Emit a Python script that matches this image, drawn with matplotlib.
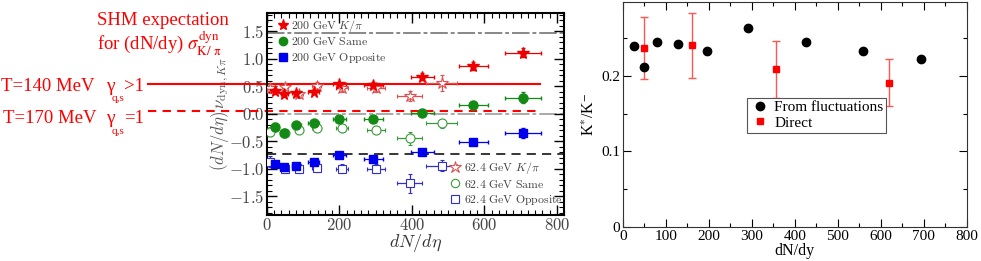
# -*- coding: utf-8 -*-
import numpy as np
import matplotlib
matplotlib.use('Agg')
import matplotlib.pyplot as plt
from matplotlib.lines import Line2D
from matplotlib.ticker import MultipleLocator, FuncFormatter

plt.rcParams['font.family'] = 'Liberation Serif'
plt.rcParams['mathtext.fontset'] = 'cm'

# ---- left panel data (STAR nu_dyn,Kpi scaled by dN/deta)
x200 = [21, 48, 81, 129, 200, 294, 429, 569, 706]
x200_err = [10, 10, 12, 15, 18, 25, 32, 40, 50]
kpi200 = [0.41, 0.35, 0.37, 0.40, 0.53, 0.52, 0.67, 0.86, 1.11]
kpi200_err = [0.05, 0.05, 0.05, 0.05, 0.05, 0.05, 0.06, 0.07, 0.08]
same200 = [-0.24, -0.36, -0.21, -0.18, -0.09, -0.09, 0.01, 0.15, 0.29]
same200_err = [0.07, 0.06, 0.05, 0.05, 0.05, 0.05, 0.05, 0.06, 0.10]
opp200 = [-0.92, -0.98, -0.95, -0.88, -0.75, -0.83, -0.70, -0.52, -0.35]
opp200_err = [0.06, 0.06, 0.05, 0.05, 0.05, 0.05, 0.05, 0.06, 0.09]

x62 = [9, 50, 89, 137, 208, 300, 394, 482]
x62_err = [8, 8, 10, 12, 17, 25, 35, 42]
kpi62 = [0.46, 0.48, 0.35, 0.50, 0.46, 0.47, 0.32, 0.56]
kpi62_err = [0.08, 0.08, 0.06, 0.07, 0.07, 0.08, 0.10, 0.14]
same62 = [-0.33, -0.36, -0.29, -0.27, -0.26, -0.30, -0.45, -0.18]
same62_err = [0.08, 0.07, 0.06, 0.06, 0.07, 0.07, 0.12, 0.08]
opp62 = [-0.88, -1.00, -1.00, -0.99, -1.00, -1.00, -1.27, -0.95]
opp62_err = [0.10, 0.08, 0.08, 0.07, 0.08, 0.08, 0.18, 0.10]

# reference lines
ref_gray_top = 1.47
ref_gray_zero = 0.0
ref_black = -0.74
shm_140 = 0.53
shm_170 = 0.045
shm_xrange = [-328, 755]

# ---- right panel data
fluct_x = [27, 50, 80, 129, 197, 291, 426, 558, 693]
fluct_y = [0.240, 0.212, 0.245, 0.243, 0.233, 0.263, 0.245, 0.233, 0.2225]
direct_x = [50, 162, 356, 620]
direct_y = [0.2375, 0.2405, 0.209, 0.191]
direct_err = [0.041, 0.0425, 0.038, 0.031]

fig = plt.figure(figsize=(9.81, 2.61), dpi=100)

# ================= left panel
ax = fig.add_axes([267/981, 1-215/261, 297/981, 202/261])
red, green, blue = '#ee0000', '#138a13', '#0000ee'
red_o, green_o, blue_o = '#e05050', '#3a9a3a', '#3030c8'

ax.axhline(ref_gray_top, color='#888888', lw=1.4, ls=(0, (9, 1.5, 2, 1.5)), zorder=1)
ax.axhline(ref_gray_zero, color='#aaaaaa', lw=1.4, ls=(0, (9, 1.5, 2, 1.5)), zorder=1)
ax.axhline(ref_black, color='black', lw=1.1, ls=(0, (6, 4)), zorder=1)
ax.plot(shm_xrange, [shm_140, shm_140], color='red', lw=1.5, clip_on=False, zorder=2)
ax.plot(shm_xrange, [shm_170, shm_170], color='red', lw=1.5, ls=(0, (4, 3)),
        clip_on=False, zorder=2)

ekw = dict(ls='none', elinewidth=0.9, capsize=1.5, zorder=3)
ax.errorbar(x62, kpi62, yerr=kpi62_err, xerr=x62_err, fmt='*', ms=9, mfc='white',
            mec=red_o, ecolor=red_o, mew=0.8, **ekw)
ax.errorbar(x62, same62, yerr=same62_err, xerr=x62_err, fmt='o', ms=6.5, mfc='white',
            mec=green_o, ecolor=green_o, mew=0.8, **ekw)
ax.errorbar(x62, opp62, yerr=opp62_err, xerr=x62_err, fmt='s', ms=6, mfc='white',
            mec=blue_o, ecolor=blue_o, mew=0.8, **ekw)
ax.errorbar(x200, kpi200, yerr=kpi200_err, xerr=x200_err, fmt='*', ms=8.5, color=red, **ekw)
ax.errorbar(x200, same200, yerr=same200_err, xerr=x200_err, fmt='o', ms=6.5, color=green, **ekw)
ax.errorbar(x200, opp200, yerr=opp200_err, xerr=x200_err, fmt='s', ms=6, color=blue, **ekw)

ax.set_xlim(0, 820)
ax.set_ylim(-1.845, 1.83)
ax.xaxis.set_major_locator(MultipleLocator(200))
ax.xaxis.set_minor_locator(MultipleLocator(20))
ax.yaxis.set_major_locator(MultipleLocator(0.5))
ax.yaxis.set_minor_locator(MultipleLocator(0.1))
ax.xaxis.set_major_formatter(FuncFormatter(lambda v, p: r'$%d$' % v))
ax.yaxis.set_major_formatter(FuncFormatter(lambda v, p: r'$%.1f$' % v))
ax.tick_params(which='both', direction='in', top=True, right=True, labelsize=12,
               labelcolor='#444444', pad=2)
ax.tick_params(which='major', length=7, width=1)
ax.tick_params(which='minor', length=3.5, width=0.8)
for s in ax.spines.values():
    s.set_linewidth(1.5)
ax.set_xlabel(r'$dN/d\eta$', fontsize=13, color='#333333', labelpad=-1)
ax.set_ylabel(r'$(dN/d\eta)\,\nu_{{\rm dyn},K\pi}$', fontsize=12, color='#555555', labelpad=-2)

h200 = [Line2D([], [], ls='none', marker='*', ms=8, color=red),
        Line2D([], [], ls='none', marker='o', ms=6, color=green),
        Line2D([], [], ls='none', marker='s', ms=5.5, color=blue)]
lab200 = [r'$\mathrm{200\ GeV}\ K/\pi$', r'$\mathrm{200\ GeV\ Same}$',
          r'$\mathrm{200\ GeV\ Opposite}$']
leg1 = ax.legend(h200, lab200, loc='upper left', bbox_to_anchor=(0.03, 0.975), frameon=False,
                 fontsize=8.5, handletextpad=0.1, labelspacing=0.2, handlelength=1.2,
                 borderaxespad=0, borderpad=0)
for t in leg1.get_texts():
    t.set_color('#444444')
ax.add_artist(leg1)
h62 = [Line2D([], [], ls='none', marker='*', ms=9, mfc='white', mec=red_o, mew=0.8),
       Line2D([], [], ls='none', marker='o', ms=6, mfc='white', mec=green_o, mew=0.8),
       Line2D([], [], ls='none', marker='s', ms=6, mfc='white', mec=blue_o, mew=0.8)]
lab62 = [r'$\mathrm{62.4\ GeV}\ K/\pi$', r'$\mathrm{62.4\ GeV\ Same}$',
         r'$\mathrm{62.4\ GeV\ Opposite}$']
leg2 = ax.legend(h62, lab62, loc='lower right', bbox_to_anchor=(0.995, 0.04), frameon=False,
                 fontsize=8.5, handletextpad=0.1, labelspacing=0.2, handlelength=1.2,
                 borderaxespad=0, borderpad=0)
for t in leg2.get_texts():
    t.set_color('#444444')

# red SHM annotations
def fx(px):
    return px / 981.0

def fy(py):
    return 1 - py / 261.0

fig.text(fx(97), fy(25), 'SHM expectation', color='red', fontsize=13.5, va='baseline')
fig.text(fx(97), fy(51), r'for (dN/dy) $\sigma^{\rm dyn}_{\rm K/\ \pi}$', color='red',
         fontsize=13.5, va='baseline', math_fontfamily='stix')
fig.text(fx(1), fy(91), 'T=140 MeV', color='red', fontsize=13.5, va='baseline')
fig.text(fx(106), fy(91), 'γ', color='red', fontsize=14, va='baseline')
fig.text(fx(124), fy(91), '>1', color='red', fontsize=13.5, va='baseline')
fig.text(fx(112), fy(101), 'q,s', color='red', fontsize=8, va='baseline')
fig.text(fx(3), fy(123), 'T=170 MeV', color='red', fontsize=13.5, va='baseline')
fig.text(fx(106), fy(123), 'γ', color='red', fontsize=14, va='baseline')
fig.text(fx(124), fy(123), '=1', color='red', fontsize=13.5, va='baseline')
fig.text(fx(112), fy(134), 'q,s', color='red', fontsize=8, va='baseline')

# ================= right panel
ax2 = fig.add_axes([622.7/981, 1-227/261, 344/981, 225/261])
eb = ax2.errorbar(direct_x, direct_y, yerr=direct_err, fmt='s', ms=5, color='red',
                  ecolor='#ff5555', elinewidth=1, capsize=3, capthick=1, zorder=3)
pts, = ax2.plot(fluct_x, fluct_y, 'o', ms=6, color='black', ls='none', zorder=4)
ax2.set_xlim(0, 800)
ax2.set_ylim(0, 0.298)
ax2.xaxis.set_major_locator(MultipleLocator(100))
ax2.xaxis.set_minor_locator(MultipleLocator(50))
ax2.yaxis.set_major_locator(MultipleLocator(0.1))
ax2.yaxis.set_minor_locator(MultipleLocator(0.05))
ax2.yaxis.set_major_formatter(FuncFormatter(lambda v, p: '0' if v == 0 else '%.1f' % v))
ax2.tick_params(which='both', direction='in', top=True, right=True, labelsize=11, pad=2)
ax2.tick_params(which='major', length=6, width=0.8)
ax2.tick_params(which='minor', length=3, width=0.8)
for s in ax2.spines.values():
    s.set_linewidth(0.8)
    s.set_color('#333333')
ax2.set_xlabel('dN/dy', fontsize=11.5, labelpad=0)
ax2.set_ylabel(r'K$^{*}$/K$^{-}$', fontsize=11.5, labelpad=2, math_fontfamily='stix')
leg3 = ax2.legend([pts, Line2D([], [], ls='none', marker='s', ms=5, color='red')],
                  ['From fluctuations', 'Direct'], loc='upper left',
                  bbox_to_anchor=(0.36, 0.575),
                  borderaxespad=0, fancybox=False, edgecolor='#555555', fontsize=11,
                  handletextpad=0.3, labelspacing=0.1, handlelength=1.3, borderpad=0.2,
                  framealpha=1)
leg3.get_frame().set_linewidth(0.8)

fig.savefig('out.png', dpi=100)
